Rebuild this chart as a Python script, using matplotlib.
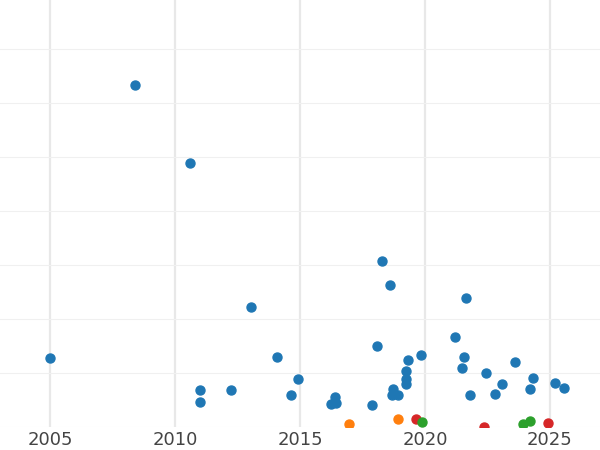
import matplotlib.pyplot as plt
from matplotlib.ticker import MultipleLocator

# blue group
blue_year = [2005.0, 2008.4, 2010.6, 2011.0, 2011.0, 2012.24, 2013.04, 2014.08, 2014.64, 2014.92,
             2016.24, 2016.4, 2016.44, 2017.88, 2018.08, 2018.28, 2018.6, 2018.72, 2018.68, 2018.92,
             2019.24, 2019.24, 2019.24, 2019.32, 2019.84, 2021.2, 2021.64, 2021.56, 2021.48, 2021.8,
             2022.44, 2022.8, 2023.08, 2023.6, 2024.2, 2024.32, 2025.2, 2025.56]
blue_val = [1.28, 6.33, 4.89, 0.69, 0.46, 0.69, 2.22, 1.30, 0.59, 0.89,
            0.43, 0.56, 0.44, 0.41, 1.50, 3.07, 2.63, 0.70, 0.59, 0.59,
            1.04, 0.89, 0.80, 1.24, 1.33, 1.67, 2.39, 1.30, 1.09, 0.59,
            1.0, 0.61, 0.80, 1.20, 0.70, 0.91, 0.81, 0.72]
orange_year = [2016.96, 2018.92]
orange_val = [0.06, 0.15]
red_year = [2019.64, 2022.36, 2024.92]
red_val = [0.15, 0.0, 0.07]
green_year = [2019.88, 2023.92, 2024.2]
green_val = [0.09, 0.06, 0.11]

fig = plt.figure(figsize=(6, 4.5), dpi=100)
ax = fig.add_axes([0, 23 / 450, 1, 427 / 450])

ax.scatter(blue_year, blue_val, s=42, color='#1f77b4', zorder=3)
ax.scatter(orange_year, orange_val, s=42, color='#ff7f0e', zorder=3)
ax.scatter(red_year, red_val, s=42, color='#d62728', zorder=3)
ax.scatter(green_year, green_val, s=42, color='#2ca02c', zorder=3)

ax.set_xlim(2003, 2027)
ax.set_ylim(0, 427 / 54)
ax.xaxis.set_major_locator(MultipleLocator(10))
ax.xaxis.set_minor_locator(MultipleLocator(5))
ax.yaxis.set_major_locator(MultipleLocator(1))
ax.grid(which='major', axis='x', color='#e8e8e8', linewidth=1.6)
ax.grid(which='minor', axis='x', color='#f0f0f0', linewidth=0.8)
ax.grid(which='major', axis='y', color='#f0f0f0', linewidth=0.8)
ax.set_axisbelow(True)
for s in ax.spines.values():
    s.set_visible(False)
ax.set_yticklabels([])
ax.tick_params(axis='y', length=0)
ax.tick_params(axis='x', which='both', length=0, labelsize=13, labelcolor='#444444', pad=3)
ax.set_xticks([2005, 2010, 2015, 2020, 2025])

fig.savefig('out.png', dpi=100)
